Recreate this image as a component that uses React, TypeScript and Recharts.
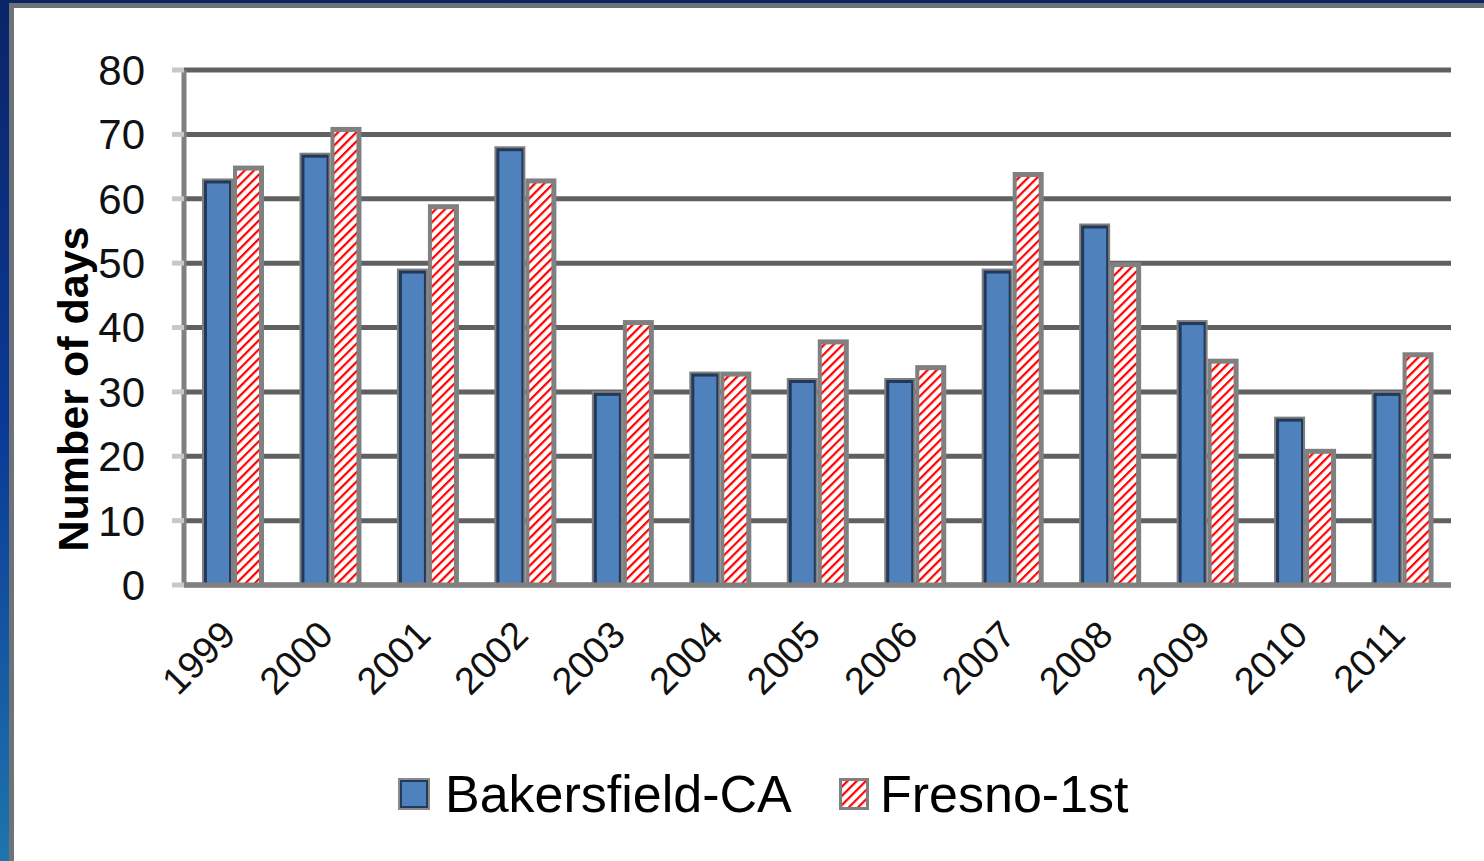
import React from 'react';
import { BarChart, Bar, XAxis, YAxis, CartesianGrid } from 'recharts';

const years = ['1999', '2000', '2001', '2002', '2003', '2004', '2005', '2006', '2007', '2008', '2009', '2010', '2011'];
const bakersfield = [63, 67, 49, 68, 30, 33, 32, 32, 49, 56, 41, 26, 30];
const fresno = [65, 71, 59, 63, 41, 33, 38, 34, 64, 50, 35, 21, 36];
const yTicks = [0, 10, 20, 30, 40, 50, 60, 70, 80];
const seriesNames = ['Bakersfield-CA', 'Fresno-1st'];

const data = years.map((y, i) => ({ year: y, bakersfield: bakersfield[i], fresno: fresno[i] }));

const FONT = '"Liberation Sans", Arial, sans-serif';

const BlueBar = (props: any) => {
  const { x, y, width, height } = props;
  if (height <= 0) return null;
  return (
    <g>
      <rect x={x} y={y - 1} width={width} height={height + 1} fill="#7f7f7f" />
      <rect x={x + 2} y={y + 1} width={width - 4} height={height - 1} fill="#22395a" />
      <rect x={x + 5} y={y + 4} width={width - 9} height={height - 4} fill="#4f81bd" />
    </g>
  );
};

const RedBar = (props: any) => {
  const { x, y, width, height } = props;
  if (height <= 0) return null;
  return (
    <g>
      <rect x={x} y={y - 1} width={width} height={height + 1} fill="#808080" />
      <rect x={x + 4} y={y + 4} width={width - 9} height={height - 4} fill="url(#hatchRed)" />
    </g>
  );
};

const XTick = (props: any) => {
  const { x, y, payload } = props;
  const tx = x + 5;
  const ty = y + 50;
  return (
    <text x={tx} y={ty} transform={`rotate(-45, ${tx}, ${ty})`} textAnchor="end" fontSize={38} fontFamily={FONT} fill="#111">
      {payload.value}
    </text>
  );
};

const YLabel = (props: any) => {
  const { viewBox } = props;
  const cx = viewBox.x - 31;
  const cy = 389;
  return (
    <text x={cx} y={cy} transform={`rotate(-90, ${cx}, ${cy})`} textAnchor="middle" dominantBaseline="central" fontSize={43} fontWeight="bold" fontFamily={FONT} fill="#000">
      Number of days
    </text>
  );
};

const HatchPattern = ({ id }: { id: string }) => (
  <pattern id={id} patternUnits="userSpaceOnUse" width="6.5" height="6.5" patternTransform="rotate(45)">
    <rect x="0" y="0" width="6.5" height="6.5" fill="#ffffff" />
    <rect x="0" y="0" width="2.2" height="6.5" fill="#ff0000" />
  </pattern>
);

export default function App() {
  return (
    <div style={{ position: 'absolute', left: 0, top: 0, width: 1484, height: 861, background: 'linear-gradient(180deg, #0b2468 0%, #0a3a96 50%, #1e74ad 100%)', overflow: 'hidden' }}>
      <div style={{ position: 'absolute', left: 9, top: 3, width: 1475, height: 858, background: '#6e7378' }} />
      <div style={{ position: 'absolute', left: 14, top: 8, width: 1470, height: 853, background: '#ffffff' }} />
      <div style={{ position: 'absolute', left: 0, top: 0 }}>
        <BarChart
          width={1484}
          height={861}
          data={data}
          margin={{ top: 70, right: 33, left: 104, bottom: 216 }}
          barSize={31}
          barGap={0}
        >
          <defs>
            <HatchPattern id="hatchRed" />
          </defs>
          <CartesianGrid vertical={false} stroke="#606060" strokeWidth={5} />
          <XAxis
            dataKey="year"
            interval={0}
            height={60}
            tickLine={false}
            tickSize={0}
            axisLine={{ stroke: '#808080', strokeWidth: 5 }}
            tick={<XTick />}
          />
          <YAxis
            domain={[0, 80]}
            ticks={yTicks}
            interval={0}
            width={80}
            tickSize={12}
            tickMargin={27}
            tickLine={{ stroke: '#c8c8c8', strokeWidth: 5 }}
            axisLine={{ stroke: '#808080', strokeWidth: 5 }}
            tick={{ fontSize: 42, fontFamily: FONT, fill: '#111' }}
            label={<YLabel />}
          />
          <YAxis
            yAxisId="right"
            orientation="right"
            width={0}
            domain={[0, 80]}
            tick={false}
            tickLine={false}
            axisLine={{ stroke: '#808080', strokeWidth: 5 }}
          />
          <Bar dataKey="bakersfield" name={seriesNames[0]} shape={<BlueBar />} isAnimationActive={false} />
          <Bar dataKey="fresno" name={seriesNames[1]} shape={<RedBar />} isAnimationActive={false} />
        </BarChart>
      </div>
      <svg style={{ position: 'absolute', left: 0, top: 0 }} width={1484} height={861}>
        <defs>
          <HatchPattern id="hatchLeg" />
        </defs>
        <rect x={398} y={778} width={32} height={32} fill="#8a8a8a" />
        <rect x={400} y={780} width={28} height={28} fill="#22395a" />
        <rect x={402} y={782} width={24} height={24} fill="#4f81bd" />
        <text x={445} y={812} fontSize={52} fontFamily={FONT} fill="#000">{seriesNames[0]}</text>
        <rect x={839} y={778} width={30} height={32} fill="#808080" />
        <rect x={842} y={781} width={24} height={26} fill="url(#hatchLeg)" />
        <text x={880} y={812} fontSize={52} fontFamily={FONT} fill="#000">{seriesNames[1]}</text>
      </svg>
    </div>
  );
}
